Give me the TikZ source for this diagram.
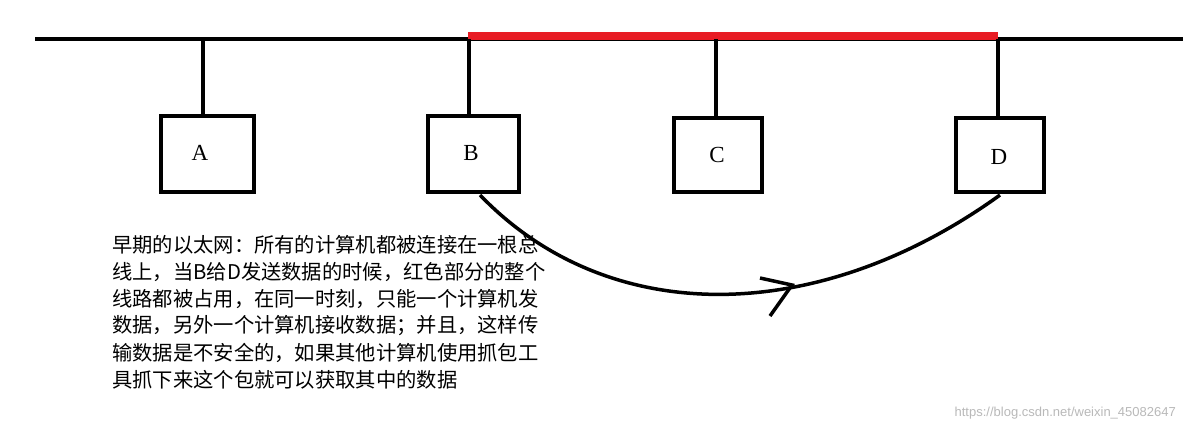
\documentclass[tikz,border=0pt]{standalone}
\usepackage{fontspec}
\newfontfamily\cjk{Noto Sans CJK SC}
\newfontfamily\wmfont{Liberation Sans}
\setmainfont{Liberation Serif}
\definecolor{busred}{RGB}{232,28,36}
\begin{document}
\begin{tikzpicture}[x=1pt,y=-1pt,
 box/.style={draw,line width=3.5pt,inner sep=0pt},
 lab/.style={font=\fontsize{23}{23}\selectfont},
 wire/.style={line width=3.5pt},
 txt/.style={anchor=west,inner sep=0pt,font=\cjk\fontsize{20.3}{20.3}\selectfont}]
\useasboundingbox (0,0) rectangle (1185,432);
\fill[white] (0,0) rectangle (1185,432);
\coordinate (L) at (35,39); \coordinate (R) at (1183,39);
\draw[wire] (L) -- (R);
\coordinate (r1) at (468,36); \coordinate (r2) at (998,36);
\draw[line width=8pt,busred] (r1) -- (r2);
\node[box,minimum width=93pt,minimum height=76pt] (A) at (207.5,154) {};
\node[box,minimum width=91pt,minimum height=76pt] (B) at (473.5,154) {};
\node[box,minimum width=88pt,minimum height=74pt] (C) at (718,155) {};
\node[box,minimum width=88pt,minimum height=74pt] (D) at (1000,155) {};
\node[lab] at (200,153) {A};
\node[lab] at (471,153) {B};
\node[lab] at (717,155) {C};
\node[lab] at (999,157) {D};
\coordinate (ta) at (203,39); \coordinate (tb) at (469,39);
\coordinate (tc) at (716,39); \coordinate (td) at (998,39);
\draw[wire] (ta) -- (A.north -| ta);
\draw[wire] (tb) -- (B.north -| tb);
\draw[wire] (tc) -- (C.north -| tc);
\draw[wire] (td) -- (D.north -| td);
\coordinate (s) at (480,195); \coordinate (e) at (1000,195);
\draw[wire] (s) .. controls (610,330) and (820,325) .. (e);
\coordinate (h1) at (760,278); \coordinate (h0) at (792,285); \coordinate (h2) at (770,316);
\draw[wire,line join=miter] (h1) -- (h0) -- (h2);
\node[txt] (t1) at (112,245) {早期的以太网：所有的计算机都被连接在一根总};
\node[txt] (t2) at (112,272) {线上，当B给D发送数据的时候，红色部分的整个};
\node[txt] (t3) at (112,299) {线路都被占用，在同一时刻，只能一个计算机发};
\node[txt] (t4) at (112,326) {数据，另外一个计算机接收数据；并且，这样传};
\node[txt] (t5) at (112,353) {输数据是不安全的，如果其他计算机使用抓包工};
\node[txt] (t6) at (112,380) {具抓下来这个包就可以获取其中的数据};
\node[anchor=east,inner sep=0pt,text=gray!55,font=\wmfont\fontsize{13}{13}\selectfont] (w) at (1176,413) {https://blog.csdn.net/weixin\_45082647};
\end{tikzpicture}
\end{document}
